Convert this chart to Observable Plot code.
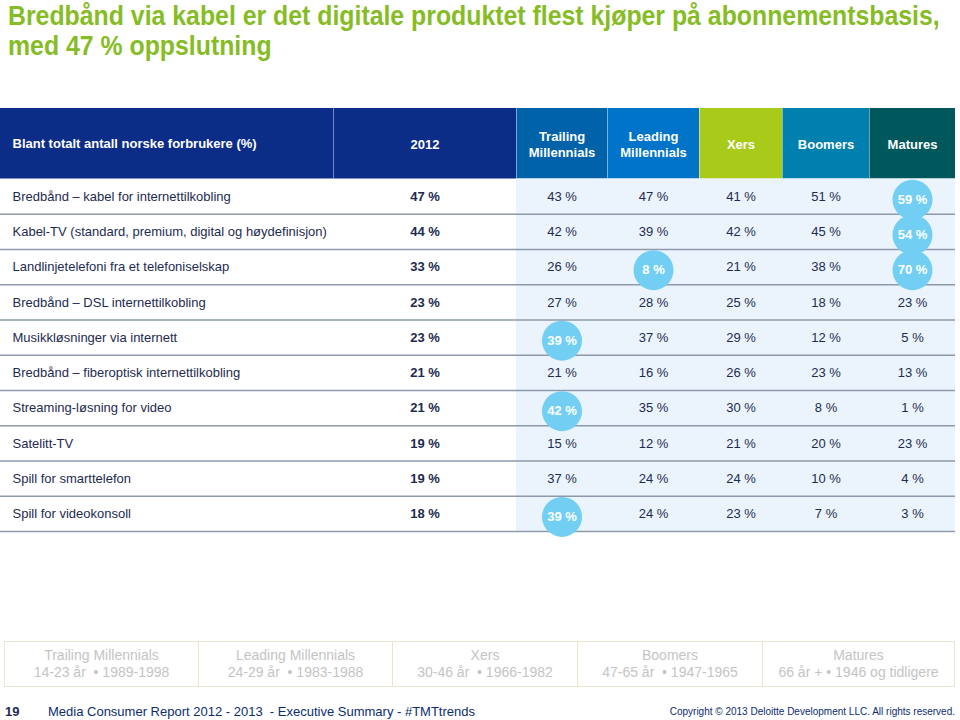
<!DOCTYPE html>
<html>
<head>
<meta charset="utf-8">
<script src="https://cdn.jsdelivr.net/npm/d3@7"></script>
<script src="https://cdn.jsdelivr.net/npm/@observablehq/plot@0.6"></script>
<style>
  html, body { margin: 0; padding: 0; background: #fff; width: 960px; height: 720px; overflow: hidden; }
  body { font-family: "Liberation Sans", Arial, sans-serif; position: relative; }
  #title { position: absolute; left: 8px; top: 1px; white-space: nowrap; transform: scaleX(0.92); transform-origin: 0 0; font-family: "Liberation Sans", Arial, sans-serif; font-weight: bold; font-size: 27px; line-height: 30px; color: #86BC25; }
  #chart { position: absolute; left: 0; top: 100px; }
  #legend { position: absolute; left: 4px; top: 641px; width: 951px; height: 46px; display: flex; }
  #legend div { box-sizing: border-box; height: 46px; border: 1.5px solid #E9E5CF; border-left-width: 0; color: #C4C4C4; font-size: 14px; line-height: 17px; text-align: center; padding-top: 5px; }
  #legend div:first-child { border-left-width: 1.5px; }
  #footer { position: absolute; left: 0; top: 702px; width: 960px; height: 20px; }
  #pageno { position: absolute; left: 5px; top: 2px; font-size: 13px; font-weight: bold; color: #1B2A55; }
  #report { position: absolute; left: 48px; top: 2px; font-size: 13px; color: #0B2D6E; }
  #copy { position: absolute; right: 5px; top: 4px; font-size: 10px; color: #0B2D6E; }
</style>
</head>
<body>
<div id="title">Bredbånd via kabel er det digitale produktet flest kjøper på abonnementsbasis,<br>med 47 % oppslutning</div>
<div id="chart"></div>
<div id="legend"></div>
<div id="footer">
  <span id="pageno">19</span>
  <span id="report">Media Consumer Report 2012 - 2013&nbsp; - Executive Summary - #TMTtrends</span>
  <span id="copy">Copyright © 2013 Deloitte Development LLC. All rights reserved.</span>
</div>
<script>
// ---- Data ----
const headerTitle = "Blant totalt antall norske forbrukere (%)";
const yearLabel = "2012";
const categories = [
  "Bredbånd – kabel for internettilkobling",
  "Kabel-TV (standard, premium, digital og høydefinisjon)",
  "Landlinjetelefoni fra et telefoniselskap",
  "Bredbånd – DSL internettilkobling",
  "Musikkløsninger via internett",
  "Bredbånd – fiberoptisk internettilkobling",
  "Streaming-løsning for video",
  "Satelitt-TV",
  "Spill for smarttelefon",
  "Spill for videokonsoll"
];
const total2012 = [47, 44, 33, 23, 23, 21, 21, 19, 19, 18];
const groupNames = ["Trailing\nMillennials", "Leading\nMillennials", "Xers", "Boomers", "Matures"];
const trailingMillennials = [43, 42, 26, 27, 39, 21, 42, 15, 37, 39];
const leadingMillennials  = [47, 39,  8, 28, 37, 16, 35, 12, 24, 24];
const xers                = [41, 42, 21, 25, 29, 26, 30, 21, 24, 23];
const boomers             = [51, 45, 38, 18, 12, 23,  8, 20, 10,  7];
const matures             = [59, 54, 70, 23,  5, 13,  1, 23,  4,  3];
// highlighted cells: [row index, group index]
const highlights = [[0, 4], [1, 4], [2, 4], [2, 1], [4, 0], [6, 0], [9, 0]];
const legendNames = ["Trailing Millennials", "Leading Millennials", "Xers", "Boomers", "Matures"];
const legendAges = ["14-23 år  • 1989-1998", "24-29 år  • 1983-1988", "30-46 år  • 1966-1982", "47-65 år  • 1947-1965", "66 år + • 1946 og tidligere"];

// ---- Layout / style ----
const colEdges = [0, 333, 516, 607, 699, 782, 869, 955];
const headerColors = ["#0B2D87", "#0B2D87", "#0062A9", "#0074C9", "#A8CA18", "#0080AE", "#00585D"];
const textColor = "#1D2B50";
const circleColor = "#72CFF3";
const center = j => (colEdges[j] + colEdges[j + 1]) / 2;

const groupSeries = [trailingMillennials, leadingMillennials, xers, boomers, matures];
const headerCols = colEdges.slice(0, -1).map((e, j) => ({
  col: j,
  color: headerColors[j],
  label: j === 0 ? headerTitle : j === 1 ? yearLabel : groupNames[j - 2]
}));
const rows = categories.map((c, i) => ({row: i, label: c, total: total2012[i]}));
const cells = categories.flatMap((c, i) => groupSeries.map((s, g) => ({
  row: i, col: g + 2, value: s[i],
  hi: highlights.some(([r, gg]) => r === i && gg === g)
})));
const pct = v => `${v} %`;

const chart = Plot.plot({
  width: 960,
  height: 440,
  margin: 0,
  x: {type: "linear", domain: [0, 960], range: [0, 960], axis: null},
  y: {type: "linear", domain: [-2, 10], range: [8, 431], axis: null},
  color: {type: "identity"},
  style: {fontFamily: "'Liberation Sans', Arial, sans-serif", background: "white"},
  marks: [
    // header blocks
    Plot.rect(headerCols, {x1: d => colEdges[d.col], x2: d => colEdges[d.col + 1], y1: () => -2, y2: () => 0, fill: d => d.color}),
    Plot.ruleX(colEdges.slice(1, -1), {y1: () => -2, y2: () => 0, stroke: "#ffffff", strokeOpacity: 0.45, strokeWidth: 1}),
    // light data background
    Plot.rect([0], {x1: () => colEdges[2], x2: () => colEdges[7], y1: () => 0, y2: () => categories.length, fill: "#EBF4FC"}),
    // row separators
    Plot.ruleY(d3.range(1, categories.length + 1), {x1: () => colEdges[0], x2: () => colEdges[7], stroke: "#8E9AAB", strokeWidth: 1.6}),
    // header text
    Plot.text(headerCols.filter(d => d.col === 0), {x: () => 12, y: () => -1, text: "label", textAnchor: "start", fill: "white", fontWeight: "bold", fontSize: 13}),
    Plot.text(headerCols.filter(d => d.col > 0), {x: d => center(d.col), y: () => -1, text: "label", fill: "white", fontWeight: "bold", fontSize: 13, lineHeight: 1.2}),
    // row labels
    Plot.text(rows, {x: () => 12, y: d => d.row + 0.5, text: "label", textAnchor: "start", fill: textColor, fontSize: 13}),
    // 2012 totals
    Plot.text(rows, {x: () => center(1), y: d => d.row + 0.5, text: d => pct(d.total), fill: textColor, fontSize: 13, fontWeight: "bold"}),
    // generation values
    Plot.text(cells.filter(d => !d.hi), {x: d => center(d.col), y: d => d.row + 0.5, text: d => pct(d.value), fill: textColor, fontSize: 13}),
    // highlighted
    Plot.dot(cells.filter(d => d.hi), {x: d => center(d.col), y: d => d.row + 0.5, r: 20, fill: circleColor, stroke: null, dy: 3}),
    Plot.text(cells.filter(d => d.hi), {x: d => center(d.col), y: d => d.row + 0.5, text: d => pct(d.value), fill: "white", fontSize: 13, fontWeight: "bold", dy: 3})
  ]
});
document.getElementById("chart").appendChild(chart);

// legend boxes
const legendEdges = [4, 199, 393, 578, 763, 955];
const legend = document.getElementById("legend");
legendNames.forEach((n, i) => {
  const d = document.createElement("div");
  d.style.width = (legendEdges[i + 1] - legendEdges[i]) + "px";
  d.innerHTML = `${n}<br>${legendAges[i].replace(/  /g, " &nbsp;")}`;
  legend.appendChild(d);
});
</script>
</body>
</html>
